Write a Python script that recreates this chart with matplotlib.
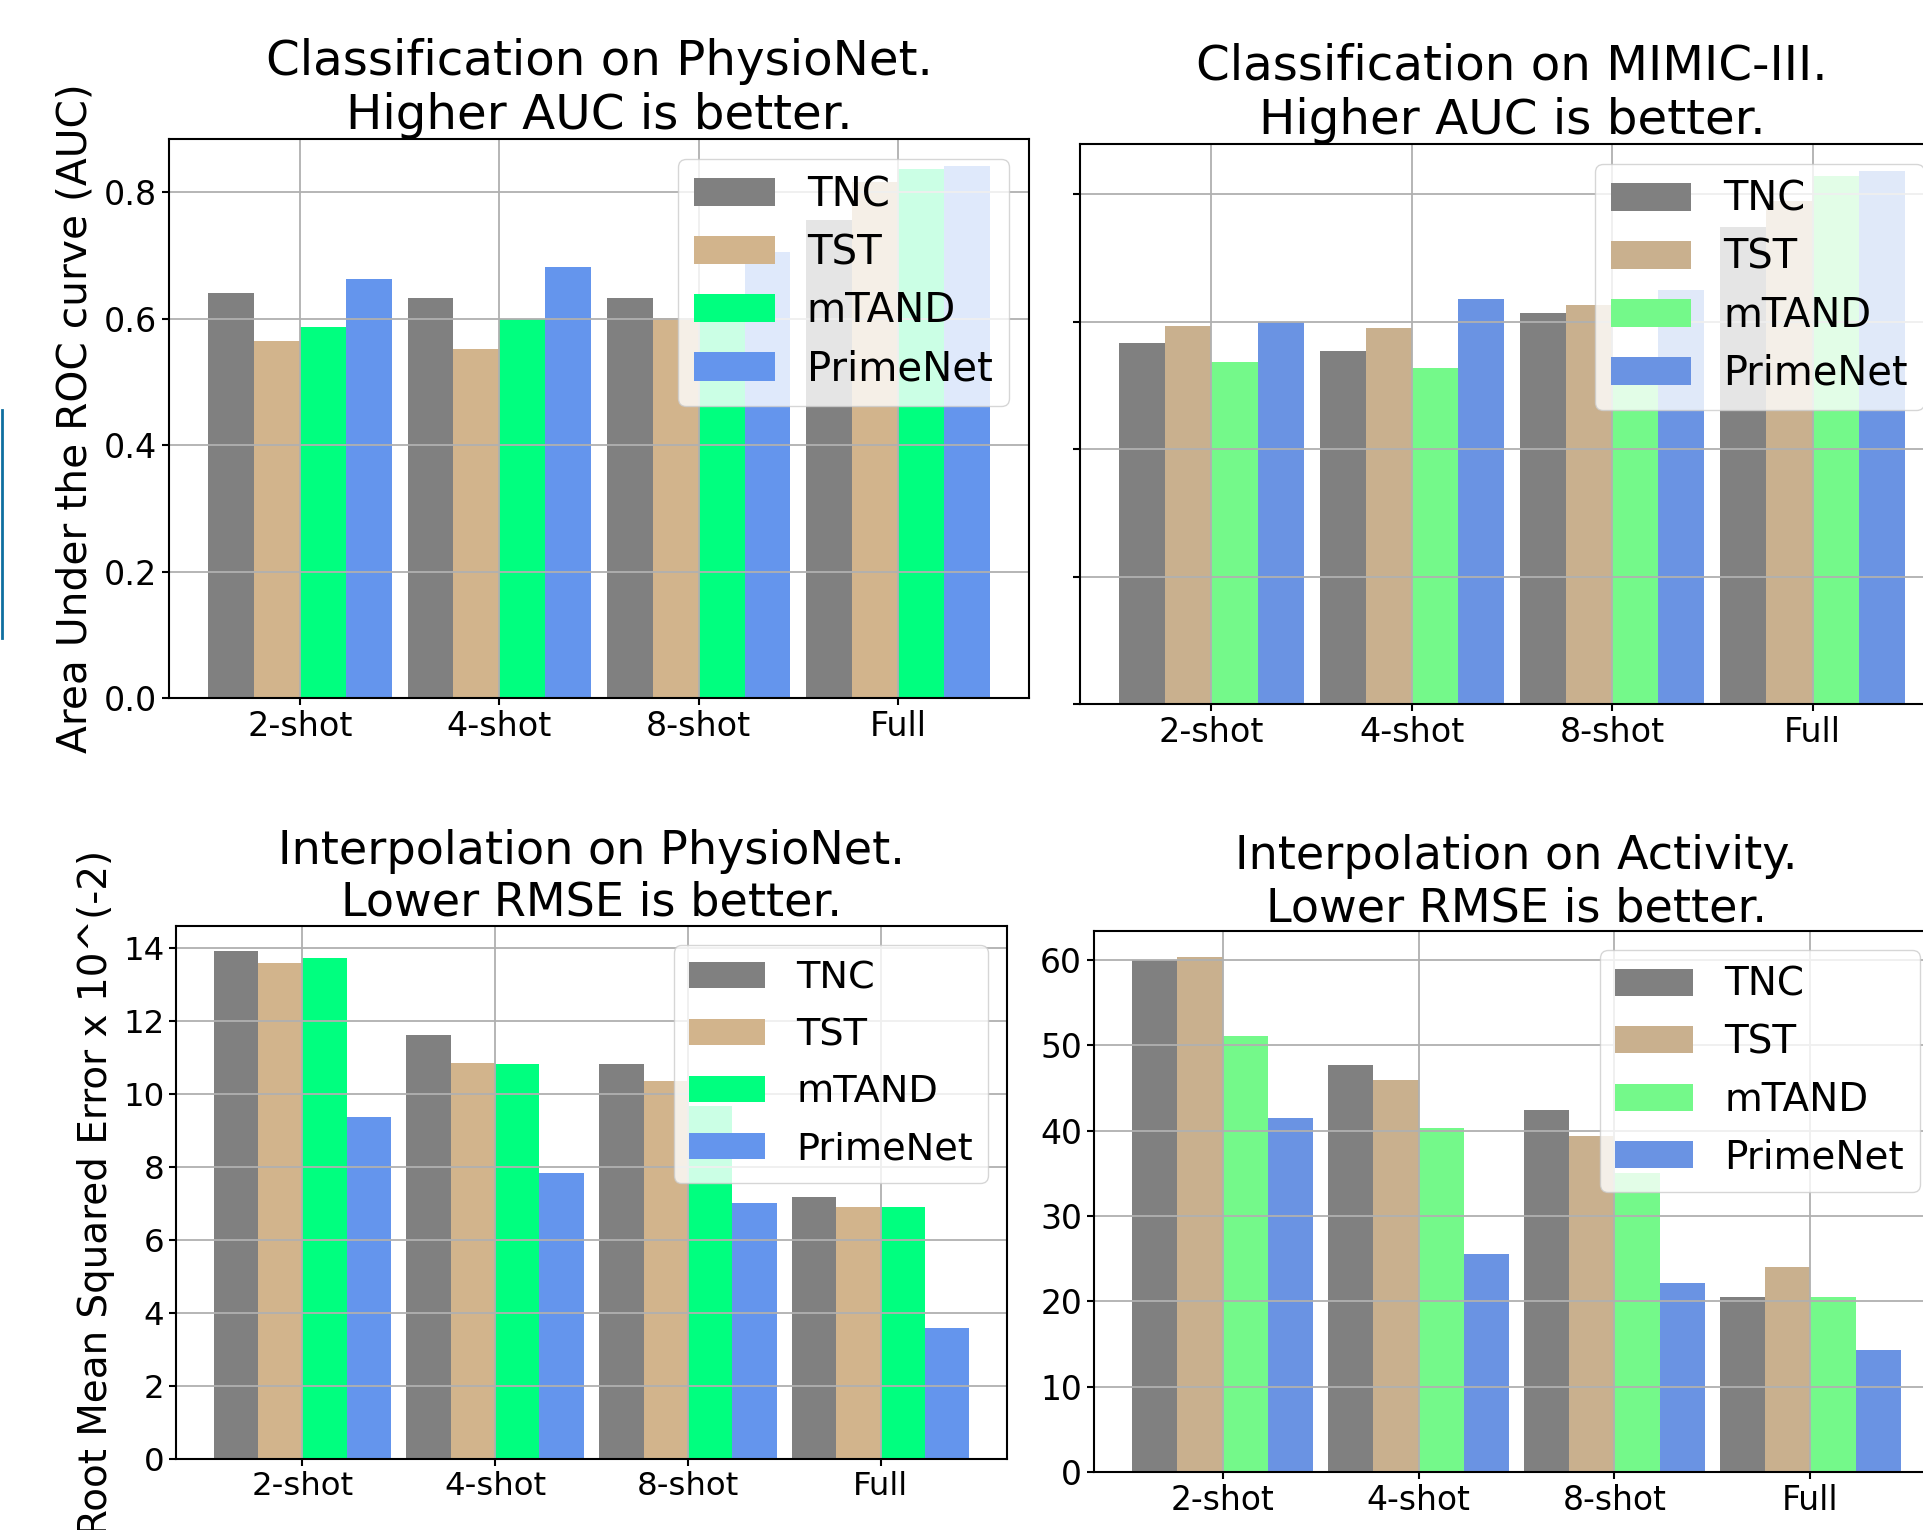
import matplotlib
matplotlib.use("Agg")
import matplotlib.pyplot as plt
import numpy as np
from matplotlib.lines import Line2D
from matplotlib.ticker import MultipleLocator

# few-shot settings and methods
shots = ['2-shot', '4-shot', '8-shot', 'Full']
methods = ['TNC', 'TST', 'mTAND', 'PrimeNet']

# classification AUC on PhysioNet
auc_physio_tnc = [0.641, 0.632, 0.633, 0.756]
auc_physio_tst = [0.564, 0.552, 0.601, 0.816]
auc_physio_mtand = [0.587, 0.599, 0.610, 0.837]
auc_physio_primenet = [0.663, 0.681, 0.706, 0.842]

# classification AUC on MIMIC-III
auc_mimic_tnc = [0.567, 0.554, 0.613, 0.748]
auc_mimic_tst = [0.594, 0.590, 0.626, 0.790]
auc_mimic_mtand = [0.537, 0.527, 0.520, 0.828]
auc_mimic_primenet = [0.599, 0.636, 0.650, 0.837]

# interpolation RMSE (x 10^-2) on PhysioNet
rmse_physio_tnc = [13.92, 11.64, 10.84, 7.18]
rmse_physio_tst = [13.59, 10.87, 10.36, 6.92]
rmse_physio_mtand = [13.75, 10.84, 9.67, 6.90]
rmse_physio_primenet = [9.38, 7.85, 7.01, 3.59]

# interpolation RMSE on Activity
rmse_act_tnc = [60.0, 47.7, 42.4, 20.5]
rmse_act_tst = [60.4, 46.0, 39.4, 24.0]
rmse_act_mtand = [51.1, 40.3, 35.0, 20.5]
rmse_act_primenet = [41.5, 25.5, 22.1, 14.3]

colors_a = ['grey', 'tan', 'springgreen', 'cornflowerblue']
colors_b = ['#808080', '#C9B08E', '#74F98A', '#6A93E3']

W, H = 1924, 1530
fig = plt.figure(figsize=(W / 100, H / 100), dpi=100)


def box(x0, y0, x1, y1):
    # pixel box (top-left origin) -> figure fraction rect
    return [x0 / W, 1 - y1 / H, (x1 - x0) / W, (y1 - y0) / H]


def panel(rect, series, colors, title, tsize, lsize, ksize, step,
          ylabel=None, ysize=28, show_yticklabels=True, lspace=0.45):
    ax = fig.add_axes(rect)
    x = np.arange(len(shots))
    width = 0.23
    for i, (vals, name) in enumerate(zip(series, methods)):
        ax.bar(x + (i - 1.5) * width, vals, width, color=colors[i], label=name)
    ax.set_xticks(x)
    ax.set_xticklabels(shots)
    ax.yaxis.set_major_locator(MultipleLocator(step))
    ax.grid(True, color='#b0b0b0', linewidth=1.3)
    ax.set_title(title, fontsize=tsize, pad=2)
    ax.tick_params(labelsize=ksize, width=1.5, length=5)
    if not show_yticklabels:
        ax.tick_params(axis='y', labelleft=False)
    for sp in ax.spines.values():
        sp.set_linewidth(1.5)
    if ylabel:
        ax.set_ylabel(ylabel, fontsize=ysize, labelpad=6)
    ax.legend(fontsize=lsize, labelspacing=lspace)
    return ax


panel(box(169, 139, 1029, 698),
      [auc_physio_tnc, auc_physio_tst, auc_physio_mtand, auc_physio_primenet],
      colors_a, 'Classification on PhysioNet.\nHigher AUC is better.',
      34.8, 29, 24, 0.2, ylabel='Area Under the ROC curve (AUC)', ysize=29.3)

panel(box(1080, 144, 1944, 704),
      [auc_mimic_tnc, auc_mimic_tst, auc_mimic_mtand, auc_mimic_primenet],
      colors_b, 'Classification on MIMIC-III.\nHigher AUC is better.',
      34.8, 28.8, 24, 0.2, show_yticklabels=False)

panel(box(176, 926, 1007, 1459),
      [rmse_physio_tnc, rmse_physio_tst, rmse_physio_mtand, rmse_physio_primenet],
      colors_a, 'Interpolation on PhysioNet.\nLower RMSE is better.',
      33.2, 27.5, 23.3, 2, ylabel='Root Mean Squared Error x 10^(-2)', ysize=28,
      lspace=0.55)

panel(box(1094, 931, 1939, 1472),
      [rmse_act_tnc, rmse_act_tst, rmse_act_mtand, rmse_act_primenet],
      colors_b, 'Interpolation on Activity.\nLower RMSE is better.',
      33.2, 28, 23.8, 10, lspace=0.5)

# thin blue edge line on the far left
fig.add_artist(Line2D([1.5 / W, 1.5 / W], [1 - 410 / H, 1 - 638 / H],
                      color='#0f6fa0', linewidth=2))

fig.savefig('out.png', dpi=100)
